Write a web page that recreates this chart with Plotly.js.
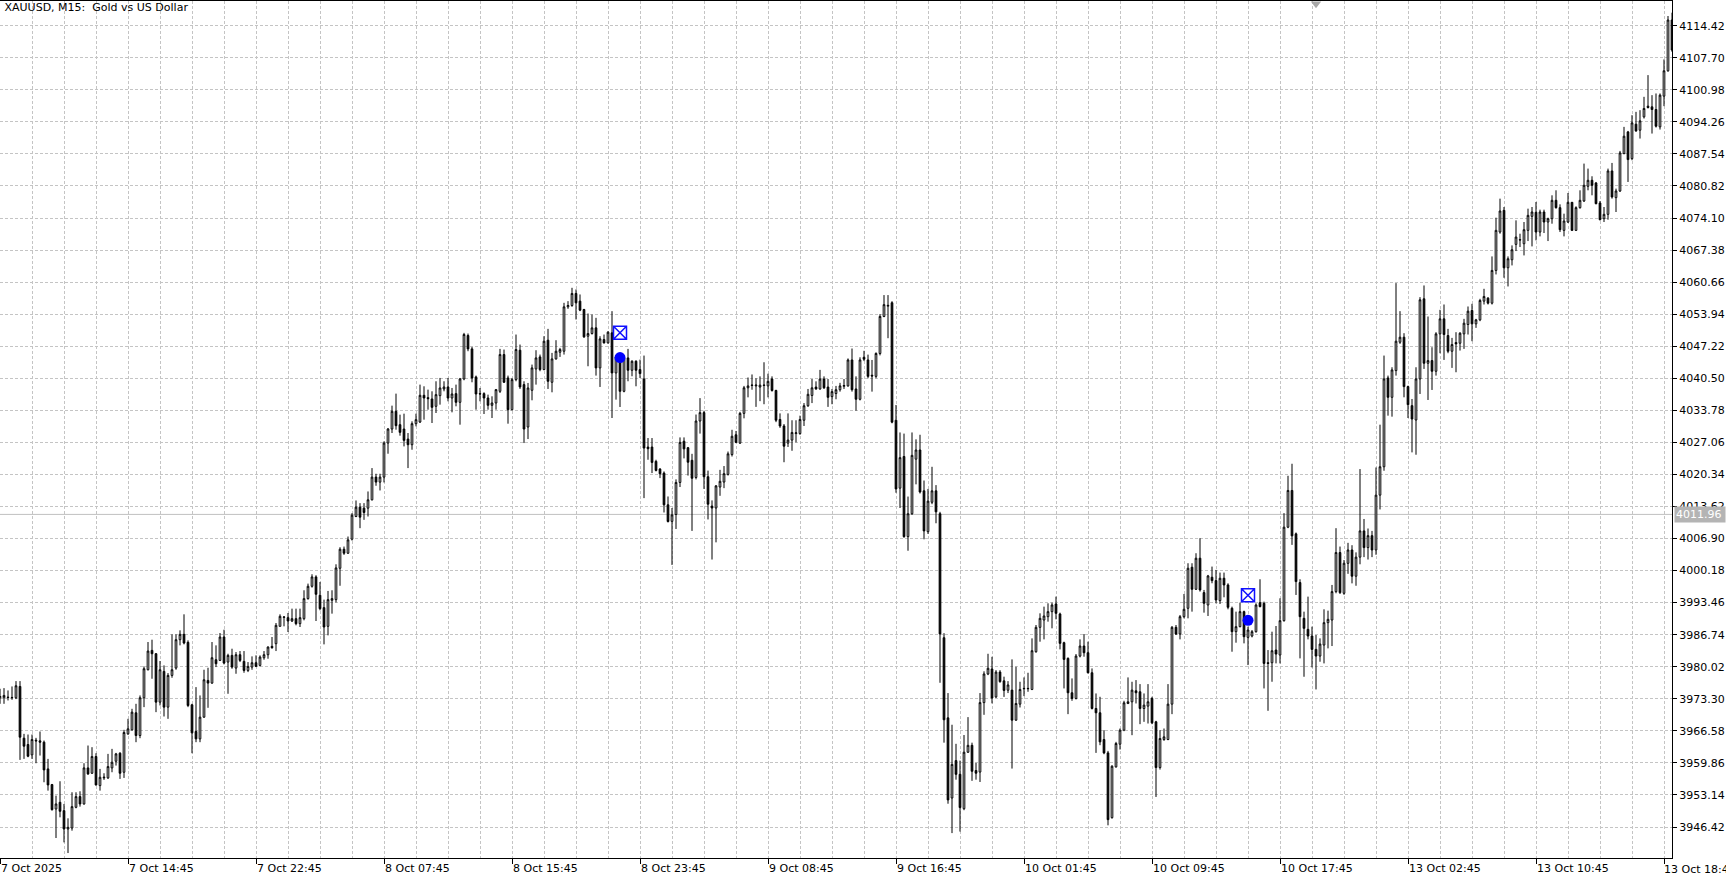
<!DOCTYPE html>
<html>
<head>
<meta charset="utf-8">
<script src="https://cdn.plot.ly/plotly-3.0.1.min.js"></script>
<style>html,body{margin:0;padding:0;background:#fff;}#chart{width:1726px;height:880px;}</style>
</head>
<body>
<div id="chart"></div>
<script>
// XAUUSD M15 bars, 7 Oct 2025 06:45 onwards (one entry per 15-minute bar)
const openP = [
3973.51,3973.51,3973.65,3973.51,3973.51,3975.89,3965.04,3963.71,3961.54,3964.62,
3964.48,3964.20,3958.60,3955.31,3950.20,3951.60,3949.85,3946.00,3946.21,3950.55,
3952.79,3951.25,3958.81,3957.69,3961.19,3955.10,3956.71,3956.71,3958.81,3960.21,
3961.89,3957.90,3965.95,3966.79,3970.36,3965.60,3973.51,3979.39,3983.45,3982.75,
3972.60,3979.04,3971.55,3978.20,3979.74,3985.69,3986.81,3985.13,3972.04,3966.44,
3964.90,3969.45,3977.15,3976.59,3981.49,3981.35,3986.25,3981.00,3982.40,3979.74,
3982.54,3981.14,3979.25,3979.95,3980.86,3980.30,3981.91,3982.54,3984.29,3984.85,
3988.49,3990.38,3990.31,3989.61,3990.10,3989.05,3990.10,3994.30,3996.89,3998.85,
3995.00,3992.41,3988.49,3993.95,3994.09,4000.67,4004.66,4003.82,4006.76,4011.52,
4013.48,4013.27,4013.27,4015.02,4019.78,4018.73,4019.78,4026.92,4029.86,4033.57,
4030.77,4029.86,4027.76,4026.57,4030.98,4031.33,4036.93,4036.44,4036.16,4034.62,
4036.86,4038.26,4038.68,4036.37,4037.28,4035.46,4040.36,4049.46,4046.66,4040.78,
4037.28,4037.28,4036.37,4034.83,4035.32,4037.77,4045.47,4040.57,4033.92,4040.22,
4046.38,4039.17,4030.28,4037.98,4042.46,4044.98,4042.32,4048.48,4039.66,4044.56,
4045.96,4046.17,4055.48,4055.76,4058.28,4056.67,4054.92,4049.32,4049.88,4051.07,
4042.67,4048.62,4047.92,4050.02,4041.62,4044.98,4037.77,4044.77,4042.18,4044.07,
4042.32,4040.36,4026.08,4026.08,4023.07,4021.46,4020.62,4013.97,4010.50,4011.94,
4018.66,4027.30,4025.94,4023.30,4019.70,4031.54,4033.30,4019.86,4013.70,4013.30,
4017.70,4018.74,4020.34,4024.50,4028.66,4026.90,4033.14,4038.50,4038.98,4038.90,
4038.66,4038.98,4038.90,4040.34,4037.94,4031.86,4030.50,4026.90,4027.54,4028.90,
4028.90,4031.70,4034.74,4036.90,4038.66,4038.26,4040.34,4038.66,4036.66,4037.30,
4038.10,4038.82,4038.90,4044.34,4038.26,4036.10,4044.90,4044.34,4041.14,4040.90,
4045.70,4053.46,4055.62,4056.34,4031.70,4017.46,4024.10,4007.30,4012.10,4023.54,
4025.46,4016.90,4008.34,4014.50,4016.90,4012.10,3986.10,3969.30,3952.50,3960.34,
3957.46,3950.26,3962.10,3963.54,3958.26,3957.94,3972.50,3978.50,3979.54,3973.70,
3978.90,3977.06,3975.10,3975.12,3968.82,3972.18,3975.40,3975.40,3975.26,3983.17,
3988.28,3989.82,3990.52,3991.57,3993.18,3991.08,3985.06,3981.77,3974.56,3973.37,
3982.26,3984.36,3982.96,3978.76,3971.27,3970.36,3964.76,3961.96,3948.38,3959.02,
3963.78,3966.72,3972.32,3972.67,3974.98,3974.77,3971.27,3971.76,3973.37,3968.47,
3958.88,3964.76,3964.76,3972.18,3988.28,3986.88,3990.52,3992.27,4000.88,3996.26,
4002.77,3995.56,3992.97,3998.78,3998.08,3993.88,3998.57,3997.17,3992.27,3987.37,
3988.42,3991.57,3986.18,3986.46,3987.37,3993.46,3993.32,3980.86,3980.86,3983.52,
3982.47,3989.68,4009.28,4016.98,4007.88,3997.66,3990.17,3987.86,3986.46,3983.66,
3982.26,3984.57,3989.26,3989.82,3995.77,4003.96,3995.42,4001.70,4004.50,3999.00,
4003.00,4008.50,4005.00,4007.50,4004.50,4016.00,4021.95,4040.57,4036.51,4042.11,
4048.06,4049.11,4038.75,4034.76,4031.75,4040.36,4057.16,4043.65,4044.21,4041.97,
4049.81,4052.96,4049.46,4046.17,4047.99,4047.85,4049.81,4051.77,4054.71,4051.91,
4052.75,4056.67,4057.30,4056.25,4063.11,4071.16,4075.71,4063.67,4065.35,4068.57,
4069.48,4068.71,4071.51,4074.45,4075.29,4071.16,4075.36,4073.26,4073.96,4077.81,
4076.27,4071.51,4073.26,4077.39,4071.51,4076.27,4077.67,4080.75,4082.01,4081.45,
4077.25,4073.96,4074.87,4083.97,4078.37,4079.77,4087.61,4092.16,4086.56,4093.77,
4092.51,4095.31,4097.55,4097.41,4096.85,4093.21,4099.65,4104.97,4115.61
];
const highP = [
3975.40,3975.54,3975.05,3975.89,3977.01,3977.01,3965.95,3965.81,3965.81,3965.11,
3966.44,3964.55,3960.70,3955.45,3953.00,3956.01,3951.25,3948.24,3953.70,3953.70,
3953.91,3959.79,3963.50,3963.15,3961.89,3958.60,3957.69,3961.75,3962.80,3961.96,
3962.10,3966.79,3969.10,3971.20,3972.25,3974.00,3980.09,3985.20,3985.69,3982.89,
3981.21,3980.30,3978.69,3986.81,3986.81,3987.65,3991.01,3985.55,3972.25,3975.75,
3974.00,3979.39,3979.81,3985.20,3984.50,3987.09,3987.79,3982.75,3983.80,3983.10,
3983.31,3983.31,3981.00,3982.19,3982.40,3982.40,3983.31,3984.29,3986.25,3989.19,
3991.01,3990.59,3991.29,3992.20,3992.20,3992.20,3996.05,3997.45,3999.41,3999.20,
3997.80,3994.09,3995.91,3996.05,4001.50,4005.08,4005.22,4007.32,4012.22,4014.88,
4014.32,4014.32,4016.77,4021.67,4020.48,4020.48,4027.27,4030.07,4034.76,4037.28,
4032.87,4033.08,4029.02,4031.47,4033.08,4039.17,4038.82,4038.12,4037.77,4039.87,
4040.57,4039.87,4040.57,4038.47,4039.17,4040.57,4050.02,4049.88,4047.08,4041.06,
4038.47,4037.56,4037.07,4036.72,4038.26,4046.66,4046.52,4041.06,4040.57,4049.67,
4047.57,4039.87,4039.52,4043.37,4046.38,4045.47,4049.32,4050.86,4045.82,4048.48,
4046.87,4056.32,4056.67,4059.47,4059.12,4058.07,4055.06,4054.08,4053.87,4053.17,
4049.32,4049.67,4050.37,4054.57,4045.26,4045.47,4044.98,4046.66,4044.28,4044.28,
4044.42,4045.26,4027.97,4027.97,4023.42,4021.67,4020.97,4015.72,4013.30,4019.30,
4028.10,4028.10,4026.10,4024.66,4032.90,4036.34,4033.70,4021.14,4014.90,4018.10,
4021.30,4022.10,4025.14,4029.70,4029.46,4033.46,4038.90,4040.66,4041.30,4040.50,
4040.90,4043.86,4041.46,4040.90,4038.10,4033.14,4030.90,4033.14,4031.70,4031.70,
4032.66,4035.30,4038.26,4040.34,4039.86,4042.26,4040.90,4040.34,4038.26,4038.90,
4039.54,4040.34,4044.66,4046.74,4040.90,4044.90,4046.26,4045.46,4044.34,4045.94,
4053.94,4057.94,4057.94,4056.66,4034.90,4029.14,4028.90,4015.70,4029.14,4027.70,
4028.66,4019.06,4017.30,4021.94,4018.10,4012.50,3987.06,3974.50,3967.86,3963.86,
3960.34,3965.70,3969.46,3964.10,3959.86,3974.50,3979.06,3982.74,3982.10,3979.30,
3979.30,3977.94,3977.00,3981.56,3980.02,3976.87,3977.78,3978.76,3985.97,3988.77,
3991.22,3992.62,3993.32,3993.46,3994.72,3991.36,3985.27,3981.98,3977.57,3982.68,
3985.76,3986.88,3985.27,3979.67,3974.42,3973.72,3966.72,3962.38,3959.37,3964.27,
3967.07,3972.88,3977.78,3976.87,3977.22,3976.38,3974.42,3976.38,3973.72,3968.68,
3966.72,3967.07,3976.38,3988.56,3988.77,3990.87,3995.28,4001.72,4001.72,4003.82,
4006.97,3996.12,3999.27,4001.02,4000.32,3999.76,3999.76,3997.52,3992.62,3991.57,
3993.46,3991.78,3988.42,3987.72,3993.32,3998.36,3993.67,3983.52,3987.37,3988.56,
3994.37,4012.22,4020.06,4022.58,4008.16,3998.36,3991.57,3994.72,3988.42,3986.67,
3985.97,3992.06,3991.78,3997.17,4009.07,4005.22,4002.40,4006.00,4005.50,4004.00,
4021.46,4011.00,4009.00,4008.50,4021.80,4030.77,4045.26,4041.06,4042.81,4060.45,
4054.57,4049.95,4038.96,4036.16,4042.81,4057.51,4059.96,4053.45,4047.01,4050.16,
4054.85,4055.97,4050.86,4048.97,4050.16,4050.16,4052.96,4055.55,4056.11,4052.96,
4057.16,4059.26,4057.51,4066.05,4074.17,4078.16,4076.41,4066.05,4068.36,4073.61,
4070.81,4073.26,4076.06,4076.41,4077.46,4075.85,4075.85,4074.17,4078.86,4079.91,
4076.97,4075.01,4079.35,4077.46,4076.55,4079.91,4085.51,4084.46,4082.85,4081.66,
4077.67,4076.41,4084.46,4085.65,4080.26,4088.17,4093.21,4092.37,4095.66,4096.36,
4096.71,4099.51,4104.06,4099.86,4100.21,4100.21,4107.35,4116.45,4117.15
];
const lowP = [
3972.25,3972.25,3972.95,3973.09,3973.23,3960.49,3960.70,3961.05,3960.70,3959.79,
3961.40,3955.80,3954.05,3949.85,3944.11,3948.45,3943.20,3940.96,3945.65,3950.34,
3950.69,3951.11,3957.34,3957.55,3955.10,3954.05,3956.29,3956.50,3957.90,3959.30,
3956.50,3956.71,3965.74,3966.65,3964.20,3965.04,3971.55,3979.25,3977.50,3970.50,
3971.90,3969.59,3969.10,3977.71,3979.39,3984.50,3984.71,3971.55,3961.89,3964.20,
3964.20,3969.31,3971.41,3976.45,3979.95,3981.21,3980.51,3974.35,3979.60,3978.55,
3981.00,3978.76,3978.90,3979.39,3979.95,3980.09,3981.49,3981.70,3983.80,3983.31,
3988.49,3988.49,3987.30,3989.40,3988.70,3988.35,3989.75,3994.09,3996.61,3989.61,
3991.85,3984.71,3986.60,3991.15,3993.50,3997.00,4003.47,4003.68,4006.48,4011.38,
4009.07,4010.82,4011.52,4014.88,4017.96,4016.98,4018.66,4024.68,4029.02,4029.72,
4028.46,4026.22,4021.67,4025.52,4030.42,4031.12,4031.82,4033.92,4031.12,4033.22,
4034.97,4037.77,4035.67,4033.36,4034.62,4030.77,4040.08,4046.17,4039.66,4033.92,
4035.67,4033.01,4033.92,4032.17,4033.92,4037.42,4039.52,4030.98,4033.78,4039.87,
4038.26,4026.92,4027.76,4035.88,4039.17,4041.97,4042.18,4038.26,4037.56,4044.42,
4044.98,4045.47,4055.06,4055.48,4052.82,4054.57,4048.97,4043.02,4049.67,4041.06,
4038.68,4047.78,4047.78,4032.17,4036.02,4034.48,4037.56,4039.87,4040.92,4038.82,
4040.57,4015.37,4023.42,4020.62,4020.97,4019.57,4012.36,4010.26,4001.37,4008.90,
4017.70,4023.70,4020.10,4008.50,4019.30,4028.90,4017.30,4010.90,4002.50,4006.10,
4015.86,4017.46,4020.10,4024.10,4026.90,4026.74,4032.10,4036.50,4038.10,4034.50,
4035.70,4035.06,4036.50,4037.70,4031.30,4030.10,4022.90,4026.10,4025.30,4027.06,
4028.66,4030.50,4034.50,4035.30,4038.10,4038.10,4038.26,4034.50,4035.06,4036.10,
4037.70,4038.26,4038.74,4037.70,4033.70,4035.86,4044.10,4040.50,4037.70,4040.50,
4045.30,4053.30,4048.90,4031.06,4016.50,4013.30,4007.06,4004.34,4011.86,4018.26,
4016.34,4006.74,4007.86,4014.10,4010.10,3976.66,3964.10,3951.30,3945.14,3956.34,
3945.46,3949.94,3961.94,3956.10,3956.34,3955.86,3969.94,3978.26,3972.34,3973.46,
3976.66,3973.70,3974.50,3958.67,3968.68,3971.48,3973.86,3974.77,3975.12,3982.96,
3985.27,3985.76,3989.47,3988.07,3989.96,3983.66,3975.47,3970.08,3972.88,3973.16,
3981.98,3982.12,3978.62,3971.06,3961.96,3963.57,3961.68,3946.77,3948.17,3958.88,
3962.66,3966.51,3972.18,3965.67,3972.32,3967.98,3968.47,3968.12,3967.98,3952.72,
3958.46,3964.48,3964.62,3970.08,3986.67,3985.76,3990.17,3990.17,3991.57,3996.12,
3995.77,3991.36,3990.66,3997.52,3993.32,3993.18,3994.58,3992.06,3983.17,3985.06,
3988.28,3984.92,3980.37,3986.18,3987.16,3992.48,3975.47,3970.78,3976.87,3980.72,
3980.72,3989.47,4009.07,4005.57,3995.07,3981.77,3977.92,3985.76,3979.88,3975.26,
3981.07,3980.72,3983.87,3984.36,3995.42,3995.28,3995.10,3999.50,3997.50,3997.00,
4001.50,4003.00,4002.50,4003.00,4003.50,4013.00,4021.11,4032.66,4032.45,4041.06,
4047.71,4036.51,4032.17,4024.96,4024.47,4037.21,4042.46,4035.95,4038.05,4041.06,
4045.75,4044.35,4045.75,4042.67,4041.76,4046.31,4046.66,4049.67,4048.27,4051.07,
4052.47,4055.97,4055.97,4055.97,4062.27,4070.81,4061.57,4059.75,4064.16,4067.17,
4068.01,4066.26,4069.27,4068.15,4069.41,4070.25,4070.95,4069.27,4072.91,4076.06,
4071.16,4070.25,4073.05,4071.37,4071.37,4076.06,4077.46,4079.91,4078.86,4076.97,
4073.61,4073.26,4073.75,4078.16,4075.36,4079.56,4087.47,4081.66,4086.21,4092.16,
4090.76,4094.96,4097.06,4091.81,4093.07,4092.65,4097.55,4104.76,4108.96
];
const closeP = [
3973.79,3974.00,3973.58,3973.58,3976.03,3965.25,3963.36,3961.26,3964.76,3964.48,
3964.20,3958.39,3955.24,3950.06,3951.25,3949.71,3946.00,3946.35,3950.69,3952.79,
3951.25,3958.81,3957.55,3961.19,3955.24,3956.85,3956.85,3959.09,3960.00,3961.75,
3957.69,3966.23,3967.00,3970.50,3965.60,3973.51,3979.60,3983.31,3982.75,3972.60,
3979.39,3971.55,3978.20,3979.39,3985.69,3986.81,3984.99,3971.90,3966.16,3964.90,
3969.45,3977.29,3976.59,3981.91,3980.65,3986.25,3980.79,3982.40,3979.95,3982.54,
3981.35,3979.25,3980.09,3980.86,3980.09,3982.05,3982.54,3984.15,3984.01,3988.70,
3990.59,3990.45,3989.61,3990.10,3989.05,3990.31,3994.30,3996.89,3998.85,3995.21,
3992.20,3988.35,3994.09,3994.30,4000.74,4004.66,4003.82,4006.62,4011.80,4013.48,
4011.38,4012.36,4015.02,4019.78,4018.73,4019.78,4026.92,4029.86,4033.57,4030.56,
4029.16,4027.48,4026.57,4030.98,4031.82,4036.93,4036.37,4036.23,4034.41,4037.07,
4038.47,4038.68,4036.37,4037.21,4035.46,4040.36,4049.67,4046.66,4040.57,4037.21,
4037.21,4036.37,4034.83,4035.32,4038.12,4045.47,4039.66,4033.92,4040.22,4046.52,
4038.68,4029.86,4038.47,4042.67,4044.77,4042.32,4048.27,4039.87,4044.56,4046.17,
4046.52,4055.48,4055.76,4058.28,4056.32,4054.78,4049.18,4049.88,4051.07,4042.67,
4048.76,4047.92,4050.16,4041.62,4044.98,4037.77,4044.77,4042.18,4044.07,4042.18,
4041.48,4025.87,4025.73,4022.86,4021.18,4020.48,4013.97,4010.47,4011.86,4018.66,
4027.06,4025.70,4022.90,4019.54,4031.54,4033.30,4019.86,4014.10,4013.30,4017.94,
4018.90,4020.50,4024.66,4028.34,4027.06,4033.14,4038.50,4038.90,4039.06,4039.06,
4039.06,4039.06,4039.86,4037.94,4031.70,4030.50,4026.26,4027.54,4029.14,4029.06,
4031.86,4034.74,4037.14,4038.50,4038.26,4040.34,4038.50,4036.50,4037.70,4038.10,
4038.90,4038.98,4044.34,4038.10,4036.10,4044.34,4044.50,4040.90,4040.98,4045.70,
4053.46,4055.94,4055.78,4031.30,4017.30,4023.86,4007.30,4012.10,4024.34,4025.46,
4016.66,4008.50,4014.74,4016.90,4012.50,3986.90,3968.90,3952.10,3959.54,3957.46,
3950.50,3962.10,3963.54,3958.10,3957.70,3972.50,3978.50,3979.70,3973.46,3978.90,
3976.90,3975.06,3976.20,3968.82,3972.32,3975.26,3975.47,3975.47,3983.38,3988.28,
3990.17,3990.66,3991.57,3992.97,3991.22,3984.92,3981.56,3974.56,3973.37,3982.26,
3984.36,3982.96,3978.76,3971.27,3970.36,3964.27,3961.96,3947.96,3959.16,3963.92,
3966.72,3972.46,3972.67,3975.12,3974.56,3971.27,3971.97,3972.67,3968.26,3958.88,
3964.97,3965.32,3972.18,3988.28,3986.88,3990.52,3992.06,4000.67,3996.26,4002.77,
3996.12,3993.32,3999.06,3998.08,3994.02,3998.57,3997.17,3992.48,3987.37,3988.42,
3991.57,3986.32,3987.72,3987.37,3992.97,3992.62,3980.72,3980.72,3983.38,3982.68,
3989.68,4009.28,4016.98,4007.46,3997.87,3990.52,3988.07,3986.46,3983.66,3982.26,
3984.78,3989.26,3989.96,3995.77,4003.96,3995.56,4001.72,4004.50,3999.00,4003.00,
4008.50,4005.00,4007.50,4004.50,4016.00,4021.95,4040.36,4036.51,4042.25,4048.27,
4049.11,4038.75,4034.97,4031.96,4040.36,4056.95,4043.65,4044.21,4041.97,4049.81,
4052.96,4049.67,4046.17,4047.57,4047.71,4049.95,4052.05,4054.57,4051.91,4052.75,
4056.81,4057.65,4056.25,4063.11,4071.51,4075.57,4063.67,4065.56,4067.45,4070.11,
4069.55,4071.65,4074.66,4075.36,4071.16,4075.36,4073.26,4073.96,4077.81,4076.27,
4071.65,4073.47,4077.39,4071.51,4076.27,4077.81,4080.96,4082.01,4080.96,4077.11,
4073.75,4074.87,4083.97,4078.51,4079.77,4087.75,4091.25,4086.35,4094.05,4092.37,
4094.47,4097.06,4097.27,4096.85,4093.35,4099.86,4104.97,4115.61,4109.31
];

// time-axis labels and the bar they sit on
const timeTickBars = [0,32,64,96,128,160,192,224,256,288,320,352,384,416];
const timeTickLabels = ['7 Oct 2025','7 Oct 14:45','7 Oct 22:45','8 Oct 07:45','8 Oct 15:45',
  '8 Oct 23:45','9 Oct 08:45','9 Oct 16:45','10 Oct 01:45','10 Oct 09:45','10 Oct 17:45',
  '13 Oct 02:45','13 Oct 10:45','13 Oct 18:45'];

// price-axis labels
const priceTicks = [3946.42,3953.14,3959.86,3966.58,3973.30,3980.02,3986.74,3993.46,4000.18,
  4006.90,4013.62,4020.34,4027.06,4033.78,4040.50,4047.22,4053.94,4060.66,4067.38,4074.10,
  4080.82,4087.54,4094.26,4100.98,4107.70,4114.42];

// price line and trade marks
const bidPrice = 4011.96;
const tradeBars = [155, 312];
const tradeOrderPrice = [4050.05, 3994.99];
const tradeFillPrice = [4044.85, 3989.75];
const shiftMarkBar = [329];

const barIdx = openP.map((_, i) => i);
const FONT = 'DejaVu Sans';
const GRID = '#c4c4c4';
const lastTick = timeTickLabels.length - 1;

const traces = [
  {
    type: 'candlestick', x: barIdx, open: openP, high: highP, low: lowP, close: closeP,
    increasing: {line: {color: '#000000', width: 1}, fillcolor: '#ffffff'},
    decreasing: {line: {color: '#000000', width: 1}, fillcolor: '#000000'},
    whiskerwidth: 0, hoverinfo: 'skip', showlegend: false
  },
  {
    type: 'scatter', mode: 'markers', x: tradeBars, y: tradeOrderPrice,
    marker: {symbol: 'square-x', size: 13, color: '#ffffff', line: {color: '#1010ff', width: 1.5}},
    hoverinfo: 'skip', showlegend: false
  },
  {
    type: 'scatter', mode: 'markers', x: tradeBars, y: tradeFillPrice,
    marker: {symbol: 'circle', size: 11, color: '#0000ff', line: {width: 0}},
    hoverinfo: 'skip', showlegend: false
  },
  {
    type: 'scatter', mode: 'markers', x: shiftMarkBar, y: [4119.0],
    marker: {symbol: 'triangle-down', size: 9, color: '#a8a8a8', line: {width: 0}},
    cliponaxis: false, hoverinfo: 'skip', showlegend: false
  }
];

const layout = {
  width: 1726, height: 880,
  margin: {l: 0, r: 54, t: 1, b: 22, pad: 0},
  paper_bgcolor: '#ffffff', plot_bgcolor: '#ffffff',
  showlegend: false,
  title: {
    text: 'XAUUSD, M15: \u00a0Gold vs US Dollar',
    font: {family: FONT, size: 11, color: '#000000'},
    xref: 'container', x: 0.0026, xanchor: 'left',
    yref: 'container', y: 0.996, yanchor: 'top', pad: {t: 0, b: 0, l: 0, r: 0}
  },
  xaxis: {
    range: [0, 418], fixedrange: true,
    rangeslider: {visible: false},
    tickmode: 'array', tickvals: timeTickBars,
    ticktext: timeTickLabels.map((t, k) => (k === lastTick ? '' : t)),
    ticks: 'outside', ticklen: 5, tickwidth: 1, tickcolor: '#000000',
    ticklabelposition: 'outside right',
    tickfont: {family: FONT, size: 11, color: '#000000'},
    showline: true, mirror: true, linecolor: '#000000', linewidth: 1,
    showgrid: true, gridcolor: GRID, griddash: '3px,2px', gridwidth: 1,
    zeroline: false,
    minor: {tickmode: 'linear', tick0: 0, dtick: 8, ticks: '', showgrid: true,
            gridcolor: GRID, griddash: '3px,2px', gridwidth: 1}
  },
  yaxis: {
    side: 'right', range: [3939.92, 4119.60], fixedrange: true,
    tickmode: 'array', tickvals: priceTicks, ticktext: priceTicks.map(v => v.toFixed(2)),
    ticks: 'outside', ticklen: 4, tickwidth: 1, tickcolor: '#000000',
    tickfont: {family: FONT, size: 11, color: '#000000'},
    showline: true, linecolor: '#000000', linewidth: 1,
    showgrid: true, gridcolor: GRID, griddash: '3px,2px', gridwidth: 1,
    zeroline: false
  },
  boxgap: 0.4,
  shapes: [{
    type: 'line', xref: 'paper', x0: 0, x1: 1, yref: 'y', y0: bidPrice, y1: bidPrice,
    line: {color: '#c0c0c0', width: 1}, layer: 'below'
  }],
  annotations: [
    {
      xref: 'paper', x: 1, xanchor: 'left', xshift: 2,
      yref: 'y', y: bidPrice, yanchor: 'middle',
      text: bidPrice.toFixed(2), showarrow: false,
      bgcolor: '#b4b4b4', borderpad: 1, width: 48, align: 'left',
      font: {family: FONT, size: 11, color: '#ffffff'}
    },
    {
      xref: 'x', x: timeTickBars[lastTick], xanchor: 'left', xshift: -1,
      yref: 'paper', y: 0, yanchor: 'top', yshift: -4,
      text: timeTickLabels[lastTick], showarrow: false, borderpad: 0,
      font: {family: FONT, size: 11, color: '#000000'}
    }
  ]
};

Plotly.newPlot('chart', traces, layout, {staticPlot: true, displayModeBar: false});
</script>
</body>
</html>
